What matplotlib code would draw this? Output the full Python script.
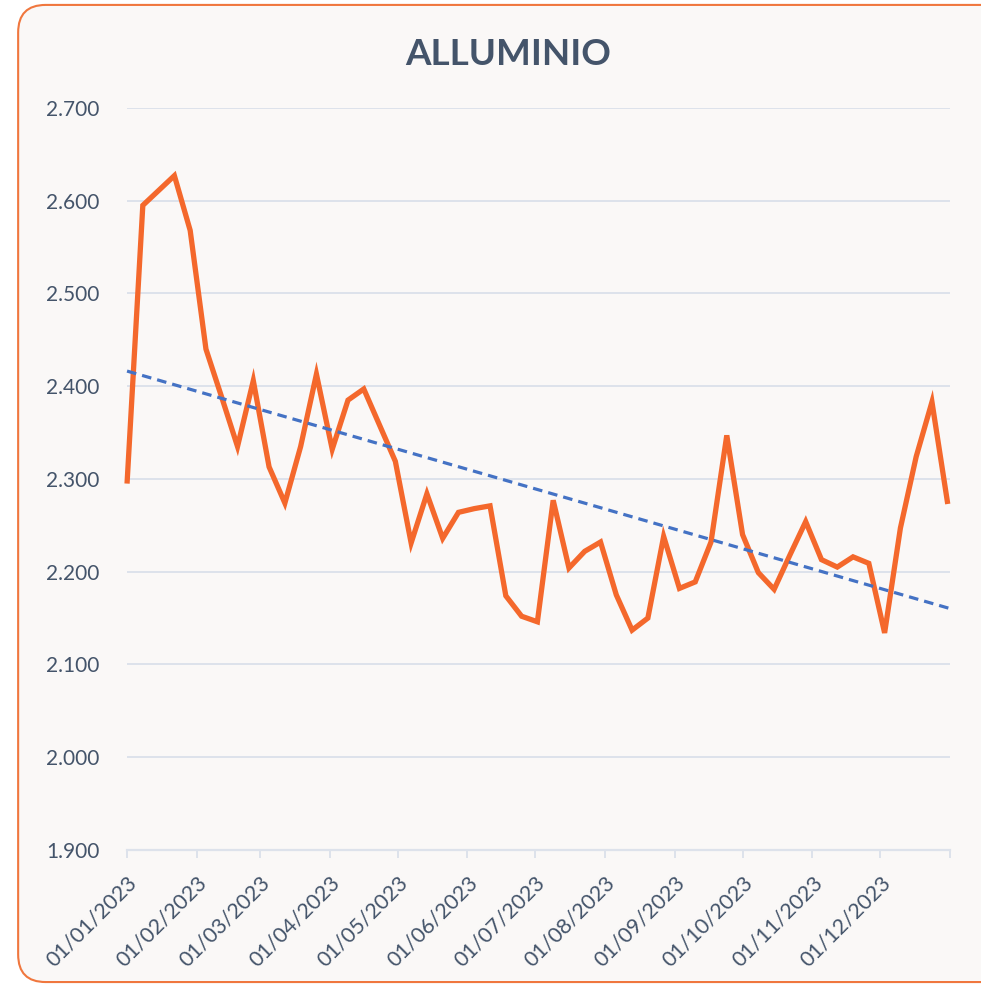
import numpy as np
import pandas as pd
import matplotlib
matplotlib.use("Agg")
import matplotlib.pyplot as plt
import matplotlib.dates as mdates
from matplotlib.patches import FancyBboxPatch
from matplotlib.ticker import FuncFormatter

plt.rcParams["font.family"] = ["Lato", "DejaVu Sans"]

# ------------------------------------------------------------
# DATA (weekly price, Italian thousands separator on the axis)
# ------------------------------------------------------------
title = "ALLUMINIO"
start_date = "2023-01-01"
prices = [
    2295, 2595, 2611, 2627, 2568, 2440, 2388, 2335, 2406, 2313,
    2274, 2335, 2413, 2332, 2385, 2397, 2358, 2319, 2231, 2284,
    2236, 2264, 2268, 2271, 2174, 2152, 2146, 2277, 2204, 2222,
    2232, 2175, 2137, 2150, 2238, 2182, 2189, 2232, 2347, 2240,
    2199, 2181, 2218, 2254, 2213, 2205, 2216, 2209, 2134, 2247,
    2324, 2383, 2273,
]
y_ticks = [1900, 2000, 2100, 2200, 2300, 2400, 2500, 2600, 2700]
month_ticks = pd.date_range("2023-01-01", "2024-01-01", freq="MS")
month_labels = [d.strftime("%d/%m/%Y") for d in month_ticks[:-1]] + [""]

dates = pd.date_range(start_date, periods=len(prices), freq="7D")

# linear trend, as the spreadsheet trendline
xnum = mdates.date2num(dates)
slope, icpt = np.polyfit(xnum, prices, 1)
trend_x = mdates.date2num(pd.to_datetime(["2023-01-01", "2024-01-01"]))
trend_y = slope * trend_x + icpt

# ------------------------------------------------------------
# FIGURE
# ------------------------------------------------------------
TEXT = "#44546A"
GRID = "#DDE2EB"
ORANGE = "#F4682C"
BLUE = "#4472C4"

fig = plt.figure(figsize=(9.81, 9.85), dpi=100)
fig.patch.set_facecolor("white")

box = FancyBboxPatch((0.0185, 0.003), 1.02, 0.992,
                     boxstyle="round,pad=0,rounding_size=0.028",
                     transform=fig.transFigure, facecolor="#FAF8F7",
                     edgecolor="#F0773E", linewidth=1.5, zorder=-5)
fig.patches.append(box)

fig.text(0.518, 0.945, title, ha="center", va="center",
         fontsize=26.5, fontweight="bold", color=TEXT)

ax = fig.add_axes([0.1295, 0.1371, 0.8389, 0.7533])
ax.set_facecolor("none")
ax.set_zorder(2)

ax.plot(dates, prices, color=ORANGE, lw=3.8, solid_joinstyle="miter",
        solid_capstyle="butt", zorder=3, clip_on=False)
ax.plot(mdates.num2date(trend_x), trend_y, color=BLUE, lw=2.3,
        dashes=(3.0, 1.9), zorder=4, clip_on=False)

ax.set_xlim(mdates.date2num(pd.Timestamp("2023-01-01")),
            mdates.date2num(pd.Timestamp("2024-01-01")))
ax.set_ylim(1900, 2700)
ax.set_yticks(y_ticks)
ax.yaxis.set_major_formatter(FuncFormatter(lambda v, p: f"{v:,.0f}".replace(",", ".")))
ax.set_xticks(mdates.date2num(month_ticks))
ax.set_xticklabels(month_labels, rotation=45, ha="right", va="top",
                   rotation_mode="anchor")

ax.grid(axis="y", color=GRID, lw=1.4)
ax.set_axisbelow(True)
for s in ["top", "right", "left"]:
    ax.spines[s].set_visible(False)
ax.spines["bottom"].set_color(GRID)
ax.spines["bottom"].set_linewidth(1.6)

ax.tick_params(axis="y", length=0, pad=20, labelsize=15, labelcolor=TEXT)
ax.tick_params(axis="x", length=6, width=1.4, color=GRID, pad=10,
               labelsize=15.5, labelcolor=TEXT)

fig.savefig("out.png", dpi=100, facecolor=fig.get_facecolor())
